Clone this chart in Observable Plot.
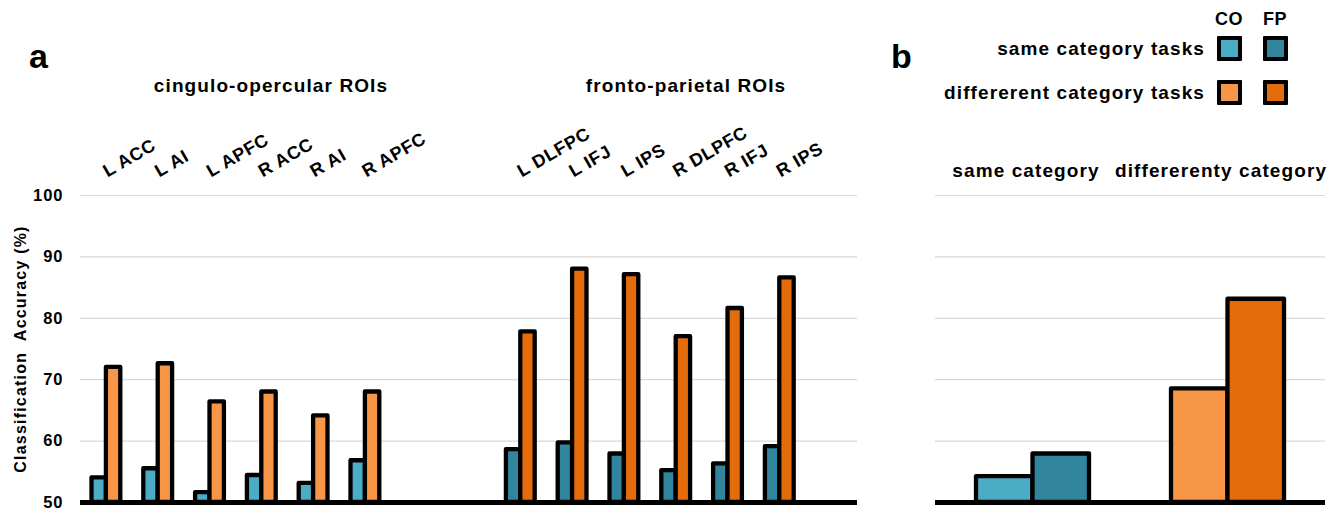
<!DOCTYPE html>
<html><head><meta charset="utf-8">
<script src="https://cdn.jsdelivr.net/npm/d3@7"></script>
<script src="https://cdn.jsdelivr.net/npm/@observablehq/plot@0.6"></script>
<style>
body{margin:0;background:#fff;}
#wrap{position:relative;width:1344px;height:513px;overflow:hidden;font-family:"Liberation Sans",Arial,sans-serif;font-weight:bold;color:#000;}
.abs{position:absolute;white-space:nowrap;line-height:1;}
.sw{position:absolute;box-sizing:border-box;width:25px;height:25px;border:4px solid #000;border-radius:1px;}
.t19{font-size:19px;letter-spacing:1.1px;}
</style></head><body><div id="wrap"></div>
<script>
// ---- data ----
const roisCO = ["L ACC", "L AI", "L APFC", "R ACC", "R AI", "R APFC"];
const roisFP = ["L DLFPC", "L IFJ", "L IPS", "R DLPFC", "R IFJ", "R IPS"];
const sameCO = [54.0, 55.5, 51.6, 54.4, 53.1, 56.8];
const diffCO = [72.0, 72.6, 66.4, 68.0, 64.1, 68.0];
const sameFP = [58.6, 59.7, 57.9, 55.2, 56.3, 59.1];
const diffFP = [77.8, 88.0, 87.1, 77.0, 81.6, 86.6];
const groupsB = ["same category", "differerenty category"];
const summaryCO = [54.2, 68.5];
const summaryFP = [57.9, 83.1];
const yTicks = [50, 60, 70, 80, 90, 100];
const gridTicks = [60, 70, 80, 90, 100];
const colorKeys = ["CO-same", "FP-same", "CO-diff", "FP-diff"];
const colorRange = ["#4BACC6", "#31859C", "#F79646", "#E46C0A"];

const FONT = '"Liberation Sans", Arial, sans-serif';
const wrap = document.getElementById("wrap");

// ---- panel a ----
const slots = [...roisCO, "gap1", "gap2", ...roisFP, "gap3"];
const rowsA = [];
roisCO.forEach((r, i) => {
  rowsA.push({roi: r, key: "CO-same", task: "same", value: sameCO[i]});
  rowsA.push({roi: r, key: "CO-diff", task: "diff", value: diffCO[i]});
});
roisFP.forEach((r, i) => {
  rowsA.push({roi: r, key: "FP-same", task: "same", value: sameFP[i]});
  rowsA.push({roi: r, key: "FP-diff", task: "diff", value: diffFP[i]});
});

const wA = 880, mlA = 80, mrA = 23;
const bwA = (wA - mlA - mrA) / slots.length;
const barWA = 14.4;
const innerA = bwA / 2, outerA = bwA / 2 - barWA;
const barStyle = {stroke: "#000", strokeWidth: 4.3, strokeLinejoin: "round"};

const plotA = Plot.plot({
  width: wA, height: 513,
  marginLeft: mlA, marginRight: mrA, marginTop: 195, marginBottom: 11,
  style: {fontFamily: FONT, fontWeight: "bold", color: "#000", background: "transparent"},
  x: {type: "band", domain: slots, padding: 0, round: false, axis: null},
  y: {domain: [50, 100], axis: null},
  color: {domain: colorKeys, range: colorRange},
  marks: [
    Plot.ruleY(gridTicks, {stroke: "#d9d9d9", strokeWidth: 1.2}),
    Plot.axisY({ticks: yTicks, tickSize: 0, tickPadding: 17, fontSize: 16.5, fontWeight: "bold", label: null}),
    Plot.text(["Classification  Accuracy (%)"], {frameAnchor: "left", textAnchor: "middle", dx: -59.5, rotate: -90, fontSize: 16, fontWeight: "bold"}),
    Plot.barY(rowsA.filter(d => d.task === "same"), {x: "roi", y1: 50, y2: "value", fill: "key", insetLeft: outerA, insetRight: innerA, ...barStyle}),
    Plot.barY(rowsA.filter(d => d.task === "diff"), {x: "roi", y1: 50, y2: "value", fill: "key", insetLeft: innerA, insetRight: outerA, ...barStyle}),
    Plot.ruleY([50], {stroke: "#000", strokeWidth: 5}),
    Plot.text([...roisCO, ...roisFP], {x: d => d, frameAnchor: "top", dx: 1, dy: -18, rotate: -30, textAnchor: "start", lineAnchor: "bottom", fontSize: 18, fontWeight: "bold"})
  ]
});
plotA.style.position = "absolute"; plotA.style.left = "0px"; plotA.style.top = "0px";
wrap.appendChild(plotA);

// ---- panel b ----
const rowsB = [];
groupsB.forEach((g, i) => {
  const t = i === 0 ? "same" : "diff";
  rowsB.push({group: g, net: "CO", key: "CO-" + t, value: summaryCO[i]});
  rowsB.push({group: g, net: "FP", key: "FP-" + t, value: summaryFP[i]});
});
const wB = 464, mlB = 55, mrB = 19;
const bwB = (wB - mlB - mrB) / groupsB.length;
const barWB = 56.5;
const innerB = bwB / 2, outerB = bwB / 2 - barWB;

const plotB = Plot.plot({
  width: wB, height: 513,
  marginLeft: mlB, marginRight: mrB, marginTop: 195, marginBottom: 11,
  style: {fontFamily: FONT, fontWeight: "bold", color: "#000", background: "transparent"},
  x: {type: "band", domain: groupsB, padding: 0, round: false, axis: null},
  y: {domain: [50, 100], axis: null},
  color: {domain: colorKeys, range: colorRange},
  marks: [
    Plot.ruleY(gridTicks, {stroke: "#d9d9d9", strokeWidth: 1.2}),
    Plot.barY(rowsB.filter(d => d.net === "CO"), {x: "group", y1: 50, y2: "value", fill: "key", insetLeft: outerB, insetRight: innerB, ...barStyle}),
    Plot.barY(rowsB.filter(d => d.net === "FP"), {x: "group", y1: 50, y2: "value", fill: "key", insetLeft: innerB, insetRight: outerB, ...barStyle}),
    Plot.ruleY([50], {stroke: "#000", strokeWidth: 5}),
    Plot.text(groupsB, {x: d => d, frameAnchor: "top", dy: -19, dx: -7, lineAnchor: "bottom", fontSize: 19, fontWeight: "bold"})
  ]
});
plotB.style.position = "absolute"; plotB.style.left = "880px"; plotB.style.top = "0px";
wrap.appendChild(plotB);

// letter spacing on text
d3.select(plotA).selectAll("g[aria-label='text'] text").attr("letter-spacing", "0.7px");
d3.select(plotA).selectAll("g[aria-label='y-axis tick label'] text").attr("letter-spacing", "1px");
d3.select(plotB).selectAll("g[aria-label='text'] text").attr("letter-spacing", "1.1px");
d3.select(plotA).selectAll("g[aria-label='text'] text").filter(function(){ return this.textContent.startsWith("Classification"); }).attr("letter-spacing", "1.2px");

// ---- annotations & legend ----
function addDiv(html, css, cls) {
  const d = document.createElement("div");
  d.className = "abs " + (cls || "");
  d.innerHTML = html;
  Object.assign(d.style, css);
  wrap.appendChild(d);
  return d;
}
addDiv("a", {left: "29px", top: "39px", fontSize: "34px"});
addDiv("b", {left: "891px", top: "39px", fontSize: "34px"});
addDiv("cingulo-opercular ROIs", {left: "71px", top: "76px", width: "400px", textAlign: "center"}, "t19");
addDiv("fronto-parietal ROIs", {left: "486px", top: "76px", width: "400px", textAlign: "center"}, "t19");

const legendCols = ["CO", "FP"];
const legendRows = ["same category tasks", "differerent category tasks"];
const colX = [1216.5, 1262.5];
const rowY = [36, 80];
legendCols.forEach((c, j) => addDiv(c, {left: (colX[j] + 12.5 - 30) + "px", top: "10px", width: "60px", textAlign: "center", fontSize: "18px", letterSpacing: "0.5px"}));
legendRows.forEach((r, i) => {
  addDiv(r, {right: "139px", top: (rowY[i] + 3) + "px", textAlign: "right"}, "t19");
  legendCols.forEach((c, j) => {
    const s = document.createElement("div");
    s.className = "sw";
    s.style.left = colX[j] + "px";
    s.style.top = rowY[i] + "px";
    s.style.background = colorRange[colorKeys.indexOf(c + "-" + (i === 0 ? "same" : "diff"))];
    wrap.appendChild(s);
  });
});
</script>
</body></html>
